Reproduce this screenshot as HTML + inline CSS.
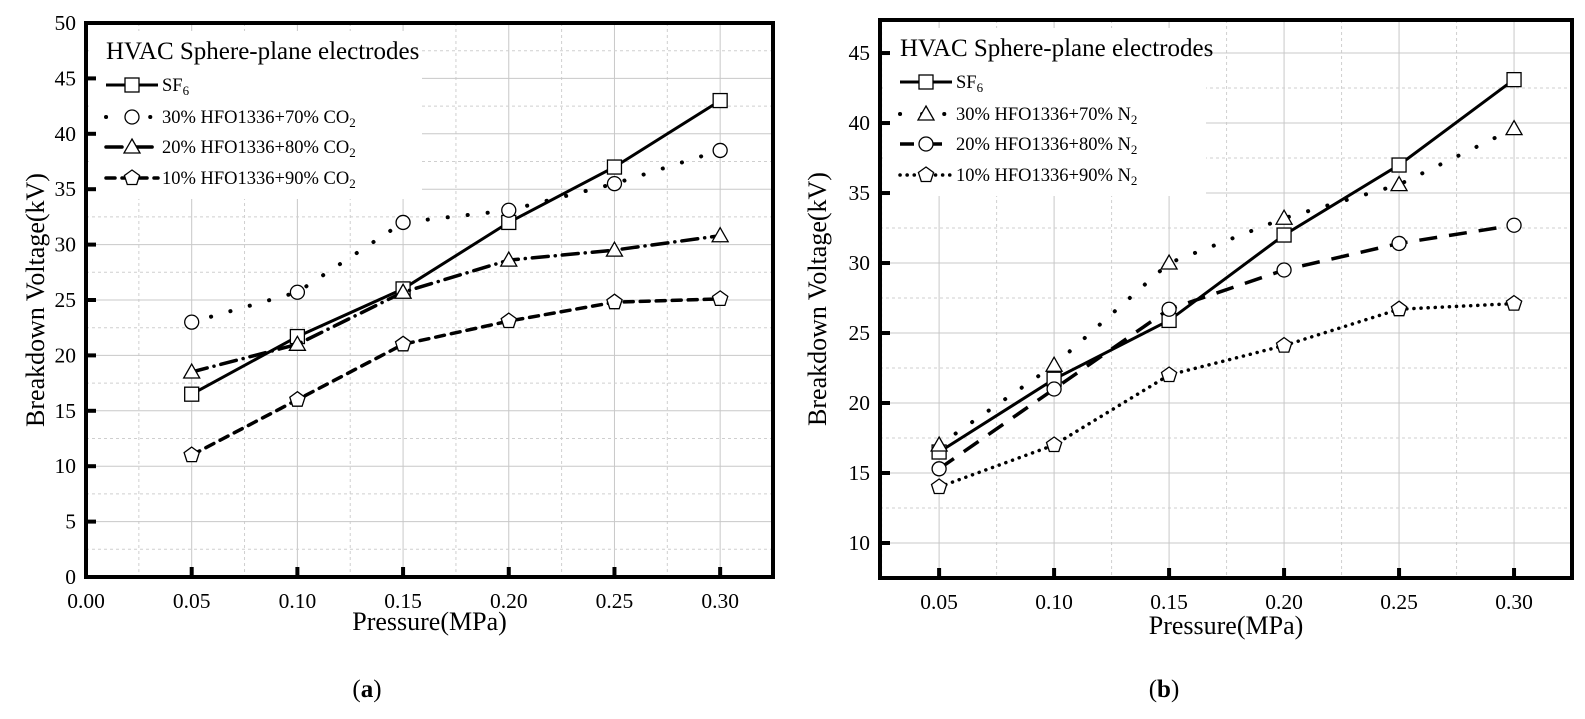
<!DOCTYPE html>
<html><head><meta charset="utf-8"><style>
body{margin:0;background:#fff;}
svg{display:block;font-family:"Liberation Serif",serif;}
</style></head><body>
<svg id="fig" width="1585" height="719" viewBox="0 0 1585 719" xmlns="http://www.w3.org/2000/svg">
<g id="pa"></g>
<g id="pb"></g>
<text x="367" y="697" font-size="25" text-anchor="middle">(<tspan font-weight="bold">a</tspan>)</text>
<text x="1164" y="697" font-size="25" text-anchor="middle">(<tspan font-weight="bold">b</tspan>)</text>
</svg>
<script>
const NS="http://www.w3.org/2000/svg";
const pressures=[0.05,0.10,0.15,0.20,0.25,0.30];
const xTicksA=[0.00,0.05,0.10,0.15,0.20,0.25,0.30];
const xTicksB=[0.05,0.10,0.15,0.20,0.25,0.30];
const yTicksA=[0,5,10,15,20,25,30,35,40,45,50];
const yTicksB=[10,15,20,25,30,35,40,45];
const aSF6=[16.5,21.7,26.0,32.0,37.0,43.0];
const aCO2_30=[23.0,25.7,32.0,33.1,35.5,38.5];
const aCO2_20=[18.5,21.0,25.7,28.6,29.5,30.8];
const aCO2_10=[11.0,16.0,21.0,23.1,24.8,25.1];
const bSF6=[16.5,21.7,25.9,32.0,37.0,43.1];
const bN2_30=[17.0,22.7,30.0,33.2,35.6,39.6];
const bN2_20=[15.3,21.0,26.7,29.5,31.4,32.7];
const bN2_10=[14.0,17.0,22.0,24.1,26.7,27.1];
const namesA=["SF6","30% HFO1336+70% CO2","20% HFO1336+80% CO2","10% HFO1336+90% CO2"];
const namesB=["SF6","30% HFO1336+70% N2","20% HFO1336+80% N2","10% HFO1336+90% N2"];

function el(parent,tag,attrs,text){const e=document.createElementNS(NS,tag);for(const k in attrs)e.setAttribute(k,attrs[k]);if(text!==undefined)e.textContent=text;parent.appendChild(e);return e;}
function marker(g,shape,cx,cy){
  let m;
  if(shape==="square"){m=el(g,"rect",{x:cx-7,y:cy-7,width:14,height:14,fill:"#fff",stroke:"#000","stroke-width":1.3});}
  else if(shape==="circle"){m=el(g,"circle",{cx:cx,cy:cy,r:7,fill:"#fff",stroke:"#000","stroke-width":1.3});}
  else if(shape==="triangle"){m=el(g,"polygon",{points:`${cx},${cy-8} ${cx+8},${cy+6} ${cx-8},${cy+6}`,fill:"#fff",stroke:"#000","stroke-width":1.3});}
  else {let p=[];for(let i=0;i<5;i++){const a=-Math.PI/2+i*2*Math.PI/5;p.push((cx+8*Math.cos(a)).toFixed(1)+","+(cy+8*Math.sin(a)).toFixed(1));}
    m=el(g,"polygon",{points:p.join(" "),fill:"#fff",stroke:"#000","stroke-width":1.3});}
  
  
}
function legendLabel(g,x,y,name){
  const t=el(g,"text",{x:x,y:y+6,"font-size":18.5});
  const m=name.match(/^(.*?)(CO|N|SF)(\d)$/);
  t.appendChild(document.createTextNode(m[1]+m[2]));
  el(t,"tspan",{"font-size":13,dy:4},m[3]);
  return t;
}
function panel(gid,cfg){
  const g=document.getElementById(gid);
  const L=cfg.L,R=cfg.R,T=cfg.T,B=cfg.B;
  const sx=v=>L+(v-cfg.x0)/(cfg.x1-cfg.x0)*(R-L);
  const sy=v=>B-(v-cfg.y0)/(cfg.y1-cfg.y0)*(B-T);
  const grid=el(g,"g",{});
  
  
  cfg.xt.forEach(v=>{ if(v>cfg.x0+1e-9) el(grid,"line",{x1:sx(v),x2:sx(v),y1:T,y2:B,stroke:"#c8c8c8","stroke-width":1});
    const h=v+0.025; if(h<cfg.x1) el(grid,"line",{x1:sx(h),x2:sx(h),y1:T,y2:B,stroke:"#cfcfcf","stroke-width":1,"stroke-dasharray":"3,3"});
    const h2=v-0.025; if(v===cfg.xt[0]&&h2>cfg.x0) el(grid,"line",{x1:sx(h2),x2:sx(h2),y1:T,y2:B,stroke:"#cfcfcf","stroke-width":1,"stroke-dasharray":"3,3"});});
  cfg.yt.forEach(v=>{ el(grid,"line",{x1:L,x2:R,y1:sy(v),y2:sy(v),stroke:"#c8c8c8","stroke-width":1});
    const h=v+2.5; if(h<cfg.y1) el(grid,"line",{x1:L,x2:R,y1:sy(h),y2:sy(h),stroke:"#cfcfcf","stroke-width":1,"stroke-dasharray":"3,3"});
    const h2=v-2.5; if(v===cfg.yt[0]&&h2>cfg.y0) el(grid,"line",{x1:L,x2:R,y1:sy(h2),y2:sy(h2),stroke:"#cfcfcf","stroke-width":1,"stroke-dasharray":"3,3"});});
  const lb=el(g,"rect",{x:L+6,y:T+8,width:cfg.lw,height:168,fill:"#fff"});
  
  
  cfg.series.forEach((s,i)=>{
    const sg=el(g,"g",{});
    
    
    const pts=pressures.map((p,j)=>sx(p).toFixed(1)+","+sy(s.v[j]).toFixed(1)).join(" ");
    const pl=el(sg,"polyline",{points:pts,fill:"none",stroke:"#000","stroke-width":s.w,"stroke-dasharray":s.dash,"stroke-linecap":s.cap});
    
    
    pressures.forEach((p,j)=>marker(sg,s.shape,sx(p),sy(s.v[j])));
  });
  const fr=el(g,"rect",{x:L,y:T,width:R-L,height:B-T,fill:"none",stroke:"#000","stroke-width":4});
  
  
  cfg.xt.forEach(v=>{ el(g,"line",{x1:sx(v),x2:sx(v),y1:B,y2:B-10,stroke:"#000","stroke-width":4});
    const t=el(g,"text",{x:sx(v),y:B+31,"font-size":21.5,"text-anchor":"middle"},v.toFixed(2));
    
    });
  cfg.yt.forEach(v=>{ el(g,"line",{x1:L,x2:L+10,y1:sy(v),y2:sy(v),stroke:"#000","stroke-width":4});
    const t=el(g,"text",{x:L-10,y:sy(v)+7,"font-size":21.5,"text-anchor":"end"},String(v));
    
    });
  const xt=el(g,"text",{x:(L+R)/2,y:B+cfg.xty,"font-size":26,"text-anchor":"middle"},"Pressure(MPa)");
  
  
  const yt=el(g,"text",{x:0,y:0,"font-size":26,"text-anchor":"middle",transform:`translate(${cfg.ytx},${(T+B)/2}) rotate(-90)`},"Breakdown Voltage(kV)");
  
  
  const lg=el(g,"g",{});
  
  
  const tt=el(lg,"text",{x:L+20,y:T+36,"font-size":25},"HVAC Sphere-plane electrodes");
  
  
  const ly=[T+62,T+94,T+124,T+155];
  cfg.series.forEach((s,i)=>{
    const eg=el(lg,"g",{});
    
    
    el(eg,"line",{x1:L+20,x2:L+72,y1:ly[i],y2:ly[i],stroke:"#000","stroke-width":s.w,"stroke-dasharray":s.ldash||s.dash,"stroke-linecap":s.cap});
    marker(eg,s.shape,L+46,ly[i]);
    legendLabel(eg,L+76,ly[i],cfg.names[i]);
  });
}
panel("pa",{L:86,R:773,T:23,B:577,x0:0,x1:0.325,y0:0,y1:50,xt:xTicksA,yt:yTicksA,ytx:44,xty:53,lw:330,names:namesA,
  series:[
    {v:aSF6,shape:"square",w:3,dash:"none",cap:"butt"},
    {v:aCO2_30,shape:"circle",w:4,dash:"0.1,20",cap:"round",ldash:"0.1,22"},
    {v:aCO2_20,shape:"triangle",w:3.5,dash:"16,7,0.1,7",cap:"round"},
    {v:aCO2_10,shape:"pentagon",w:3.5,dash:"9,7",cap:"round"}
  ]});
panel("pb",{L:880,R:1572,T:20,B:578,x0:0.0243,x1:0.3252,y0:7.5,y1:47.36,xt:xTicksB,yt:yTicksB,ytx:826,xty:56,lw:320,names:namesB,
  series:[
    {v:bSF6,shape:"square",w:3,dash:"none",cap:"butt"},
    {v:bN2_30,shape:"triangle",w:4,dash:"0.1,20",cap:"round",ldash:"0.1,22"},
    {v:bN2_20,shape:"circle",w:3.5,dash:"18,12",cap:"butt",ldash:"14,14"},
    {v:bN2_10,shape:"pentagon",w:3.5,dash:"0.1,7",cap:"round"}
  ]});
</script>
</body></html>
